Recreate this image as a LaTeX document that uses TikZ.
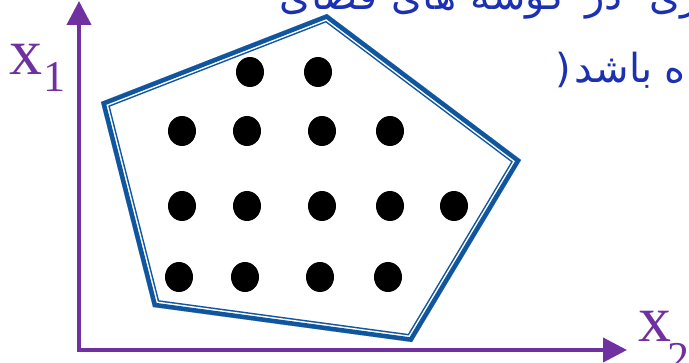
\documentclass[tikz,border=0pt]{standalone}
\usepackage{fontspec}
\setmainfont{Liberation Serif}
\newfontfamily\arabicfont[Script=Arabic]{DejaVu Sans}
\TeXXeTstate=1
\usetikzlibrary{arrows.meta,shapes.geometric}
\definecolor{axispurple}{RGB}{112,48,160}
\definecolor{polyblue}{RGB}{16,86,158}
\definecolor{textblue}{RGB}{28,48,178}
\tikzset{
  axisline/.style={draw=axispurple, line width=4pt, -{Triangle[length=24pt,width=24pt]}},
  dotnode/.style={ellipse, fill=black, draw=none, minimum width=28pt, minimum height=30pt, inner sep=0pt},
  biglabel/.style={anchor=base west, inner sep=0pt, text=axispurple, font=\fontsize{66}{70}\selectfont},
  sublabel/.style={anchor=base west, inner sep=0pt, text=axispurple, font=\fontsize{44}{48}\selectfont},
  fatext/.style={inner sep=0pt, anchor=base east, text=textblue, font=\arabicfont\fontsize{40}{44}\selectfont},
}
\begin{document}
\begin{tikzpicture}[x=1pt,y=-1pt]
\useasboundingbox (0,0) rectangle (689,363);
\clip (0,0) rectangle (689,363);
% text, top line (cut by the top edge), laid right to left
\node[fatext] (w1) at (700,10) {ری};
\node[fatext] (w2) at ([xshift=-26pt]w1.base west) {در};
\node[fatext] (w3) at ([xshift=-20pt]w2.base west) {گوشه};
\node[fatext] (w4) at ([xshift=-14pt]w3.base west) {های};
\node[fatext] (w5) at ([xshift=-14pt]w4.base west) {فضای};
% second line
\node[fatext, anchor=base west] (w7) at (664,83) {ه};
\node[fatext] (w6) at ([xshift=-11pt]w7.base west) {باشد};
\node[fatext] (p1) at ([xshift=-3pt]w6.base west) {(};
% polygon
\coordinate (pt) at (327,14);
\coordinate (pr) at (521,160);
\coordinate (pbr) at (412,342);
\coordinate (pbl) at (153,307);
\coordinate (pl) at (101,102);
\begin{scope}
\clip (pt) -- (pr) -- (pbr) -- (pbl) -- (pl) -- cycle;
\fill[white] (pt) -- (pr) -- (pbr) -- (pbl) -- (pl) -- cycle;
\draw[polyblue, line width=15pt, line join=miter] (pt) -- (pr) -- (pbr) -- (pbl) -- (pl) -- cycle;
\draw[white, line width=12pt, line join=miter] (pt) -- (pr) -- (pbr) -- (pbl) -- (pl) -- cycle;
\draw[polyblue, line width=9pt, line join=miter] (pt) -- (pr) -- (pbr) -- (pbl) -- (pl) -- cycle;
\end{scope}
% dots
\node[dotnode] (d1) at (250,72) {};
\node[dotnode] (d2) at (318,72) {};
\node[dotnode] (d3) at (182,131) {};
\node[dotnode] (d4) at (247,131) {};
\node[dotnode] (d5) at (322,131) {};
\node[dotnode] (d6) at (390,131) {};
\node[dotnode] (d7) at (182,206) {};
\node[dotnode] (d8) at (247,206) {};
\node[dotnode] (d9) at (322,206) {};
\node[dotnode] (d10) at (390,206) {};
\node[dotnode] (d11) at (454,206) {};
\node[dotnode] (d12) at (179,277) {};
\node[dotnode] (d13) at (245,277) {};
\node[dotnode] (d14) at (320,277) {};
\node[dotnode] (d15) at (388,277) {};
% axes
\coordinate (o) at (79,352);
\coordinate (ytip) at (79,1);
\coordinate (oh) at (77,350);
\coordinate (xtip) at (627,350);
\draw[axisline] (o) -- (ytip);
\draw[axisline] (oh) -- (xtip);
% labels
\node[biglabel] (x1) at (9,75) {x};
\node[sublabel] (s1) at (43,92) {1};
\node[biglabel] (x2) at (638,342) {x};
\node[sublabel] (s2) at (667,373) {2};
\end{tikzpicture}
\end{document}
